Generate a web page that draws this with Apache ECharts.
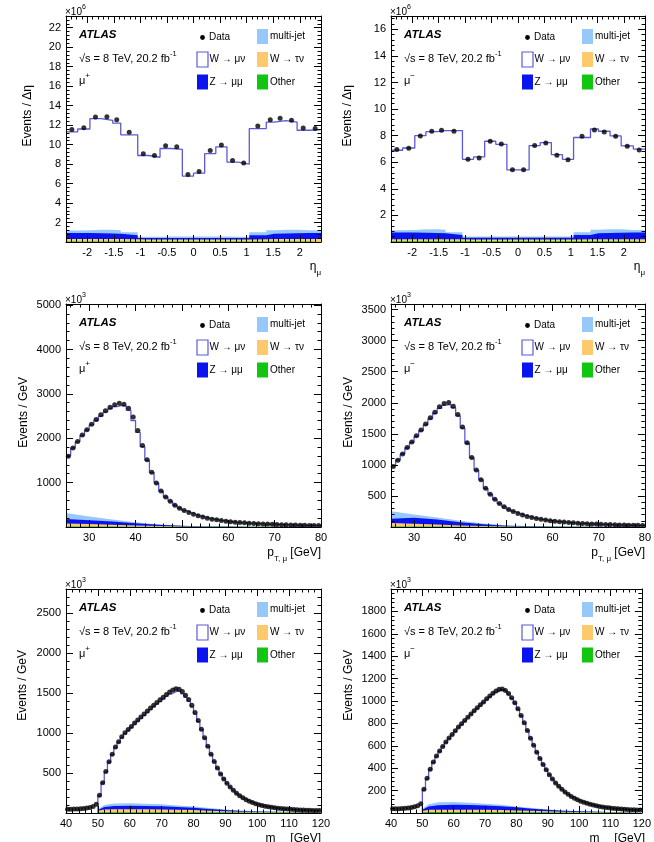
<!DOCTYPE html>
<html>
<head>
<meta charset="utf-8">
<script src="https://cdn.jsdelivr.net/npm/echarts@6/dist/echarts.min.js"></script>
<style>
  html, body { margin: 0; padding: 0; background: #fff; }
  #chart { width: 654px; height: 842px; }
</style>
</head>
<body>
<div id="chart"></div>
<script>
// ---- binning / tick labels ----
var etaEdges = [-2.4, -2.18, -1.95, -1.74, -1.52, -1.37, -1.05, -0.84, -0.63, -0.42, -0.21, 0,
  0.21, 0.42, 0.63, 0.84, 1.05, 1.37, 1.52, 1.74, 1.95, 2.18, 2.4];
var etaTicks = [-2, -1.5, -1, -0.5, 0, 0.5, 1, 1.5, 2];
var ptTicks = [30, 40, 50, 60, 70, 80];
var mtTicks = [40, 50, 60, 70, 80, 90, 100, 110, 120];
var yTicksEtaPos = [2, 4, 6, 8, 10, 12, 14, 16, 18, 20, 22];
var yTicksEtaNeg = [2, 4, 6, 8, 10, 12, 14, 16];
var yTicksPtPos = [1000, 2000, 3000, 4000, 5000];
var yTicksPtNeg = [500, 1000, 1500, 2000, 2500, 3000, 3500];
var yTicksMtPos = [500, 1000, 1500, 2000, 2500];
var yTicksMtNeg = [200, 400, 600, 800, 1000, 1200, 1400, 1600, 1800];

// ---- eta, mu+ (x10^6) ----
var etaPosData = [11.54, 11.74, 12.83, 12.87, 12.56, 11.27, 9.05, 8.88, 9.87, 9.77, 6.94,
  7.25, 9.39, 9.97, 8.37, 8.10, 11.91, 12.56, 12.70, 12.49, 11.71, 11.64];
var etaPosTotal = [11.30, 11.60, 12.66, 12.49, 12.20, 11.00, 8.88, 8.70, 9.60, 9.50, 6.77,
  7.07, 9.08, 9.77, 8.20, 8.00, 11.64, 12.30, 12.46, 12.30, 11.47, 11.54];
var etaPosOther = [0.06, 0.06, 0.06, 0.06, 0.06, 0.06, 0.06, 0.06, 0.06, 0.06, 0.06,
  0.06, 0.06, 0.06, 0.06, 0.06, 0.06, 0.06, 0.06, 0.06, 0.06, 0.06];
var etaPosWtau = [0.24, 0.24, 0.24, 0.24, 0.24, 0.23, 0.20, 0.20, 0.20, 0.20, 0.20,
  0.20, 0.20, 0.20, 0.20, 0.20, 0.23, 0.24, 0.24, 0.24, 0.24, 0.24];
var etaPosZ = [0.62, 0.62, 0.60, 0.58, 0.55, 0.40, 0.15, 0.15, 0.15, 0.15, 0.15,
  0.15, 0.15, 0.15, 0.15, 0.15, 0.40, 0.55, 0.58, 0.60, 0.62, 0.62];
var etaPosMJ = [0.25, 0.28, 0.35, 0.38, 0.35, 0.30, 0.14, 0.14, 0.15, 0.15, 0.16,
  0.16, 0.15, 0.15, 0.14, 0.14, 0.30, 0.35, 0.38, 0.35, 0.28, 0.25];

// ---- eta, mu- (x10^6) ----
var etaNegData = [6.95, 7.05, 7.98, 8.33, 8.41, 8.33, 6.22, 6.32, 7.58, 7.38, 5.44,
  5.44, 7.25, 7.45, 6.52, 6.19, 7.95, 8.43, 8.28, 7.95, 7.20, 6.92];
var etaNegTotal = [6.90, 7.07, 8.00, 8.30, 8.38, 8.38, 6.22, 6.40, 7.58, 7.35, 5.42,
  5.42, 7.25, 7.48, 6.57, 6.22, 7.86, 8.50, 8.33, 7.98, 7.23, 6.98];
var etaNegOther = [0.05, 0.05, 0.05, 0.05, 0.05, 0.05, 0.05, 0.05, 0.05, 0.05, 0.05,
  0.05, 0.05, 0.05, 0.05, 0.05, 0.05, 0.05, 0.05, 0.05, 0.05, 0.05];
var etaNegWtau = [0.16, 0.16, 0.16, 0.16, 0.16, 0.15, 0.13, 0.13, 0.13, 0.13, 0.13,
  0.13, 0.13, 0.13, 0.13, 0.13, 0.15, 0.16, 0.16, 0.16, 0.16, 0.16];
var etaNegZ = [0.50, 0.50, 0.48, 0.46, 0.45, 0.32, 0.14, 0.14, 0.14, 0.14, 0.14,
  0.14, 0.14, 0.14, 0.14, 0.14, 0.32, 0.45, 0.46, 0.48, 0.50, 0.50];
var etaNegMJ = [0.17, 0.20, 0.26, 0.28, 0.26, 0.22, 0.10, 0.10, 0.10, 0.10, 0.10,
  0.10, 0.10, 0.10, 0.10, 0.10, 0.22, 0.26, 0.28, 0.26, 0.20, 0.17];

// ---- pT, 1 GeV bins from 25 to 80 (x10^3) ----
var ptPosData = [1592, 1779, 1929, 2071, 2191, 2318, 2423, 2528, 2618, 2700,
  2753, 2790, 2768, 2678, 2476, 2176, 1839, 1517, 1232, 993,
  813, 678, 581, 491, 423, 371, 326, 288, 251, 228,
  199, 176, 161, 146, 131, 118, 109, 101, 94, 87,
  81, 75, 70, 65, 61, 57, 53, 50, 47, 44,
  41, 38, 36, 34, 32];
var ptPosTotal = [1610, 1780, 1920, 2060, 2180, 2300, 2400, 2500, 2590, 2665,
  2715, 2740, 2730, 2630, 2400, 2130, 1810, 1500, 1225, 990,
  810, 676, 578, 490, 422, 370, 325, 287, 251, 227,
  199, 176, 160, 145, 131, 118, 108, 100, 93, 86,
  80, 74, 69, 64, 60, 56, 52, 49, 46, 43,
  40, 38, 36, 34, 32];
var ptNegData = [974, 1076, 1177, 1278, 1369, 1470, 1561, 1657, 1758, 1849,
  1934, 1987, 2003, 1945, 1811, 1609, 1358, 1118, 916, 761,
  622, 527, 447, 377, 324, 281, 248, 218, 192, 171,
  153, 137, 124, 112, 102, 93, 86, 79, 73, 67,
  62, 58, 54, 50, 47, 44, 41, 39, 36, 34,
  32, 30, 29, 27, 26];
var ptNegTotal = [985, 1080, 1175, 1272, 1362, 1460, 1550, 1645, 1740, 1830,
  1912, 1962, 1975, 1920, 1790, 1592, 1348, 1112, 912, 758,
  620, 525, 446, 376, 323, 280, 247, 217, 191, 170,
  152, 136, 123, 111, 101, 92, 85, 78, 72, 66,
  61, 57, 53, 49, 46, 43, 40, 38, 35, 33,
  31, 29, 28, 26, 25];
// backgrounds read at coarser points
var ptBgX = [25, 30, 35, 40, 45, 50, 55, 60, 65, 70, 75, 80];
var ptPosOther = [10, 10, 9, 8, 6, 5, 4, 4, 3, 3, 2, 2];
var ptPosWtau = [70, 58, 42, 27, 14, 7, 3, 2, 1, 1, 0, 0];
var ptPosZ = [100, 86, 73, 51, 29, 14, 6, 3, 2, 1, 1, 1];
var ptPosMJ = [135, 82, 45, 23, 7, 2, 1, 1, 0, 0, 0, 0];
var ptNegOther = [8, 8, 7, 6, 5, 4, 4, 3, 3, 2, 2, 2];
var ptNegWtau = [55, 45, 32, 20, 10, 5, 2, 1, 1, 0, 0, 0];
var ptNegZ = [70, 95, 80, 50, 28, 13, 6, 3, 2, 1, 1, 1];
var ptNegMJ = [120, 55, 35, 25, 15, 8, 4, 2, 1, 1, 1, 0];

// ---- mT, data 1 GeV bins 40-120, prediction 50-120 (x10^3) ----
var mtPosData = [47, 48, 49, 51, 53, 57, 62, 70, 82, 109,
  221, 379, 520, 641, 733, 824, 891, 953, 1003, 1045,
  1082, 1124, 1161, 1199, 1236, 1274, 1311, 1348, 1382, 1415,
  1448, 1482, 1511, 1536, 1553, 1548, 1519, 1473, 1419, 1348,
  1255, 1155, 1048, 940, 835, 735, 645, 562, 488, 426,
  372, 324, 283, 247, 216, 190, 167, 147, 130, 116,
  104, 94, 85, 77, 71, 65, 60, 56, 52, 49,
  46, 43, 41, 39, 37, 35, 34, 32, 31, 30];
var mtPosTotal = [215, 375, 515, 635, 728, 815, 882, 943, 992, 1034,
  1071, 1110, 1147, 1184, 1220, 1256, 1292, 1328, 1361, 1393,
  1425, 1457, 1485, 1508, 1523, 1518, 1490, 1447, 1395, 1327,
  1240, 1142, 1038, 932, 830, 731, 642, 560, 487, 425,
  371, 323, 282, 246, 215, 189, 166, 146, 129, 115,
  103, 93, 84, 76, 70, 64, 59, 55, 51, 48,
  45, 42, 40, 38, 36, 34, 33, 31, 30, 29];
var mtNegData = [38, 38, 39, 40, 42, 45, 49, 55, 64, 82,
  212, 310, 390, 455, 508, 553, 594, 633, 669, 701,
  734, 767, 796, 826, 856, 885, 912, 939, 966, 992,
  1019, 1045, 1069, 1090, 1105, 1108, 1093, 1067, 1028, 984,
  930, 870, 805, 737, 668, 606, 543, 487, 434, 387,
  342, 304, 268, 239, 212, 188, 167, 148, 132, 118,
  106, 95, 86, 78, 71, 65, 59, 54, 50, 46,
  43, 40, 37, 35, 33, 31, 29, 28, 27, 26];
var mtNegTotal = [208, 305, 386, 451, 504, 549, 590, 629, 665, 697,
  730, 762, 791, 821, 851, 880, 907, 934, 960, 986,
  1012, 1038, 1061, 1082, 1097, 1100, 1086, 1061, 1023, 980,
  926, 866, 802, 735, 666, 604, 542, 486, 433, 386,
  341, 303, 267, 238, 211, 187, 166, 147, 131, 117,
  105, 94, 85, 77, 70, 64, 58, 53, 49, 45,
  42, 39, 36, 34, 32, 30, 28, 27, 26, 25];
var mtBgX = [50, 52, 55, 60, 65, 70, 75, 80, 85, 90, 95, 100, 110, 120];
var mtPosOther = [8, 10, 10, 10, 10, 10, 10, 10, 9, 8, 7, 6, 5, 4];
var mtPosWtau = [20, 35, 38, 38, 36, 33, 30, 26, 20, 14, 9, 6, 3, 2];
var mtPosZ = [10, 30, 40, 43, 42, 40, 35, 30, 22, 15, 10, 7, 3, 2];
var mtPosMJ = [10, 25, 30, 30, 28, 25, 20, 15, 10, 6, 4, 3, 1, 1];
var mtNegOther = [6, 8, 8, 8, 8, 8, 8, 8, 7, 6, 5, 5, 4, 3];
var mtNegWtau = [12, 20, 22, 22, 21, 20, 18, 15, 12, 9, 6, 4, 2, 1];
var mtNegZ = [10, 30, 40, 44, 43, 40, 35, 28, 20, 13, 9, 6, 3, 2];
var mtNegMJ = [10, 20, 26, 24, 20, 15, 12, 8, 5, 3, 2, 1, 1, 0];

var FONT = '"Liberation Sans", Arial, Helvetica, sans-serif';
var COL = { sig: '#5a5ad8', mj: '#96c8fa', wtau: '#fdca6b', z: '#0a14f0', other: '#11c511' };

function edgesFrom(lo, n, w) {
  var e = [];
  for (var i = 0; i <= n; i++) e.push(lo + i * w);
  return e;
}
function stepData(edges, vals) {
  var d = vals.map(function (v, i) { return [edges[i], v]; });
  d.push([edges[vals.length], vals[vals.length - 1]]);
  return d;
}
function centerData(edges, vals) {
  return vals.map(function (v, i) { return [(edges[i] + edges[i + 1]) / 2, v]; });
}
function cumulate(layers) {
  var out = [];
  var run = layers[0].map(function () { return 0; });
  layers.forEach(function (l) {
    run = run.map(function (r, i) { return r + l[i]; });
    out.push(run);
  });
  return out;
}
function minorTicks(lo, hi, step, majors) {
  var t = [];
  var k0 = Math.ceil(lo / step - 1e-6), k1 = Math.floor(hi / step + 1e-6);
  for (var k = k0; k <= k1; k++) {
    var v = Math.round(k * step * 1e6) / 1e6;
    if (majors.indexOf(v) < 0) t.push(v);
  }
  return t;
}

var panels = [
  { left: 66, top: 16, width: 255, height: 226, x: [-2.4, 2.4], xMajor: etaTicks, xMinor: 0.1,
    y: [0, 23.2], yMajor: yTicksEtaPos, yMinor: 0.4, exp: '6', charge: '+',
    yTitle: 'Events / Δη', xTitle: 'eta', titleX: 28, titleEnd: 85,
    dataEdges: etaEdges, data: etaPosData, totalEdges: etaEdges, total: etaPosTotal,
    bgX: null, bg: [etaPosOther, etaPosWtau, etaPosZ, etaPosMJ] },
  { left: 391, top: 16, width: 254, height: 226, x: [-2.4, 2.4], xMajor: etaTicks, xMinor: 0.1,
    y: [0, 17.0], yMajor: yTicksEtaNeg, yMinor: 0.4, exp: '6', charge: '−',
    yTitle: 'Events / Δη', xTitle: 'eta', titleX: 348, titleEnd: 85,
    dataEdges: etaEdges, data: etaNegData, totalEdges: etaEdges, total: etaNegTotal,
    bgX: null, bg: [etaNegOther, etaNegWtau, etaNegZ, etaNegMJ] },
  { left: 66, top: 304, width: 255, height: 223, x: [25, 80], xMajor: ptTicks, xMinor: 2,
    y: [0, 5025], yMajor: yTicksPtPos, yMinor: 200, exp: '3', charge: '+',
    yTitle: 'Events / GeV', xTitle: 'pt', titleX: 24, titleEnd: 377,
    dataEdges: edgesFrom(25, 55, 1), data: ptPosData, totalEdges: edgesFrom(25, 55, 1), total: ptPosTotal,
    bgX: ptBgX, bg: [ptPosOther, ptPosWtau, ptPosZ, ptPosMJ] },
  { left: 391, top: 304, width: 254, height: 223, x: [25, 80], xMajor: ptTicks, xMinor: 2,
    y: [0, 3590], yMajor: yTicksPtNeg, yMinor: 100, exp: '3', charge: '−',
    yTitle: 'Events / GeV', xTitle: 'pt', titleX: 349, titleEnd: 377,
    dataEdges: edgesFrom(25, 55, 1), data: ptNegData, totalEdges: edgesFrom(25, 55, 1), total: ptNegTotal,
    bgX: ptBgX, bg: [ptNegOther, ptNegWtau, ptNegZ, ptNegMJ] },
  { left: 66, top: 589, width: 255, height: 224, x: [40, 120], xMajor: mtTicks, xMinor: 2,
    y: [0, 2800], yMajor: yTicksMtPos, yMinor: 100, exp: '3', charge: '+',
    yTitle: 'Events / GeV', xTitle: 'mt', titleX: 23, titleEnd: 650,
    dataEdges: edgesFrom(40, 80, 1), data: mtPosData, totalEdges: edgesFrom(50, 70, 1), total: mtPosTotal,
    closeLeft: true, bgX: mtBgX, bg: [mtPosOther, mtPosWtau, mtPosZ, mtPosMJ] },
  { left: 391, top: 589, width: 254, height: 224, x: [40, 120], xMajor: mtTicks, xMinor: 2,
    y: [0, 2000], yMajor: yTicksMtNeg, yMinor: 40, exp: '3', charge: '−',
    yTitle: 'Events / GeV', xTitle: 'mt', titleX: 349, titleEnd: 650,
    dataEdges: edgesFrom(40, 80, 1), data: mtNegData, totalEdges: edgesFrom(50, 70, 1), total: mtNegTotal,
    closeLeft: true, bgX: mtBgX, bg: [mtNegOther, mtNegWtau, mtNegZ, mtNegMJ] }
];

function makeAxis(grid, pos, range, ticks, labels, len, line) {
  return {
    type: 'value', gridIndex: grid, position: pos, min: range[0], max: range[1], z: 8,
    axisLine: { show: line, onZero: false, lineStyle: { color: '#000', width: 1 } },
    axisTick: { show: true, inside: true, length: len, customValues: ticks,
      lineStyle: { color: '#000', width: 1 } },
    axisLabel: labels ? { show: true, customValues: labels, color: '#000',
      fontFamily: FONT, fontSize: 11, margin: 5,
      formatter: function (v) { return String(v); } } : { show: false },
    splitLine: { show: false }
  };
}

function txt(x, y, text, extra) {
  return { type: 'text', x: x, y: y, silent: true, z: 100,
    style: Object.assign({ text: text, fill: '#000', fontFamily: FONT, fontSize: 11,
      verticalAlign: 'middle', align: 'left' }, extra || {}) };
}
function rich(x, y, text, size, supSize, supAlign, extra) {
  return txt(x, y, text, Object.assign({
    rich: {
      a: { fontFamily: FONT, fontSize: size, lineHeight: size + 7, fill: '#000' },
      s: { fontFamily: FONT, fontSize: supSize, lineHeight: supSize + 1,
        verticalAlign: supAlign, fill: '#000' }
    }
  }, extra || {}));
}

var grids = [], xAxes = [], yAxes = [], series = [], graphics = [];

panels.forEach(function (p, i) {
  grids.push({ left: p.left, top: p.top, width: p.width, height: p.height, show: false });

  var xMin = minorTicks(p.x[0], p.x[1], p.xMinor, p.xMajor);
  var yMin = minorTicks(p.y[0], p.y[1], p.yMinor, p.yMajor);
  xAxes.push(makeAxis(i, 'bottom', p.x, p.xMajor, p.xMajor, 7, true));
  xAxes.push(makeAxis(i, 'bottom', p.x, xMin, null, 3.5, false));
  xAxes.push(makeAxis(i, 'top', p.x, p.xMajor, null, 7, true));
  xAxes.push(makeAxis(i, 'top', p.x, xMin, null, 3.5, false));
  yAxes.push(makeAxis(i, 'left', p.y, p.yMajor, p.yMajor, 7, true));
  yAxes.push(makeAxis(i, 'left', p.y, yMin, null, 3.5, false));
  yAxes.push(makeAxis(i, 'right', p.y, p.yMajor, null, 7, true));
  yAxes.push(makeAxis(i, 'right', p.y, yMin, null, 3.5, false));

  var ax = { xAxisIndex: 4 * i, yAxisIndex: 4 * i, animation: false, silent: true };

  // stacked prediction: W -> mu nu on top of the backgrounds (white fill, blue outline)
  var tot = stepData(p.totalEdges, p.total);
  if (p.closeLeft) tot.unshift([p.totalEdges[0], 0]);
  series.push(Object.assign({ type: 'line', name: 'W → μν', step: 'end', data: tot, symbol: 'none',
    lineStyle: { color: COL.sig, width: 1.3 }, areaStyle: { color: '#fff', opacity: 1 }, z: 2 }, ax));

  // backgrounds, cumulative: other, +W->tau nu, +Z->mu mu, +multi-jet
  var cum = cumulate(p.bg);
  var cols = [COL.other, COL.wtau, COL.z, COL.mj];
  for (var k = 3; k >= 0; k--) {
    var d = p.bgX
      ? p.bgX.map(function (x, j) { return [x, cum[k][j]]; })
      : stepData(p.totalEdges, cum[k]);
    series.push(Object.assign({ type: 'line', step: p.bgX ? false : 'end', data: d, symbol: 'none',
      lineStyle: { width: 0 }, areaStyle: { color: cols[k], opacity: 1 }, z: 6 - k }, ax));
  }

  series.push(Object.assign({ type: 'scatter', name: 'Data', data: centerData(p.dataEdges, p.data),
    symbolSize: 5, itemStyle: { color: '#000' }, z: 9 }, ax));

  // ---- texts ----
  var L = p.left, T = p.top;
  graphics.push(rich(L - 1, T - 4, '{a|×10}{s|' + p.exp + '}', 10, 7, 'top'));
  graphics.push(txt(L + 13, T + 19, 'ATLAS', { fontSize: 11.5, fontWeight: 'bold', fontStyle: 'italic' }));
  graphics.push(rich(L + 13, T + 43, '{a|√s = 8 TeV, 20.2 fb}{s|-1}', 11, 7.5, 'top'));
  graphics.push(rich(L + 13, T + 65, '{a|μ}{s|' + p.charge + '}', 11, 8, 'top'));

  graphics.push({ type: 'circle', silent: true, z: 100, shape: { cx: L + 136.5, cy: T + 21.5, r: 2.4 },
    style: { fill: '#000' } });
  graphics.push(txt(L + 143, T + 21.5, 'Data', { fontSize: 10 }));
  var boxes = [
    [L + 191, T + 13, COL.mj, null, 'multi-jet', L + 204, T + 20.5],
    [L + 131, T + 36, '#fff', COL.sig, 'W → μν', L + 143.5, T + 43.5],
    [L + 191, T + 36, COL.wtau, null, 'W → τν', L + 204, T + 43.5],
    [L + 131, T + 58.5, COL.z, null, 'Z → μμ', L + 143.5, T + 66],
    [L + 191, T + 58.5, COL.other, null, 'Other', L + 204, T + 66]
  ];
  boxes.forEach(function (b) {
    graphics.push({ type: 'rect', silent: true, z: 100,
      shape: { x: b[0], y: b[1], width: 11, height: 15 },
      style: { fill: b[2], stroke: b[3] || b[2], lineWidth: b[3] ? 1.2 : 0 } });
    graphics.push(txt(b[5], b[6], b[4], { fontSize: 10 }));
  });

  // axis titles
  var R = L + p.width, B = T + p.height;
  if (p.xTitle === 'eta') {
    graphics.push(rich(R, B + 25, '{a|η}{s|μ}', 12, 8, 'bottom', { align: 'right' }));
  } else if (p.xTitle === 'pt') {
    graphics.push(rich(R, B + 26, '{a|p}{s|T, μ}{a| [GeV]}', 12, 8, 'bottom', { align: 'right' }));
  } else {
    graphics.push(rich(R, B + 26, '{a|m}{s|T}{a|   [GeV]}', 12, 8, 'bottom', { align: 'right' }));
  }
  var yt = txt(p.titleX, p.titleEnd, p.yTitle, { fontSize: 12, align: 'right' });
  yt.rotation = Math.PI / 2;
  graphics.push(yt);
});

var chart = echarts.init(document.getElementById('chart'), null, { renderer: 'canvas' });
chart.setOption({
  animation: false,
  backgroundColor: '#fff',
  grid: grids,
  xAxis: xAxes,
  yAxis: yAxes,
  series: series,
  graphic: graphics
});
</script>
</body>
</html>
